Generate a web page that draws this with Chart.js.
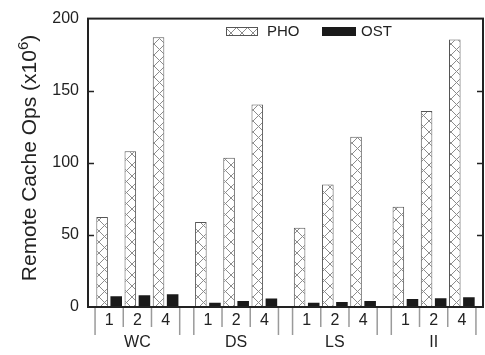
<!DOCTYPE html>
<html>
<head>
<meta charset="utf-8">
<script src="https://cdn.jsdelivr.net/npm/chart.js@4.4.0/dist/chart.umd.min.js"></script>
<style>
  html, body { margin: 0; padding: 0; background: #fff; }
  canvas { display: block; }
</style>
</head>
<body>
<canvas id="c" width="485" height="355"></canvas>
<script>
// data
const groups = ['WC', 'DS', 'LS', 'II'];
const slotLabels = ['1', '2', '4'];
const phoValues = [62.5, 108, 187, 59, 103.5, 140.5, 55, 85, 118, 69.5, 136, 185.5];
const ostValues = [7.5, 8.2, 8.9, 2.9, 4.1, 5.9, 2.9, 3.4, 4.1, 5.5, 6.1, 6.8];
const yTicks = [0, 50, 100, 150, 200];
const seriesNames = ['PHO', 'OST'];

const FONT = '"Liberation Sans", Arial, Helvetica, sans-serif';
const GROUP_GAP = 0.5; // in slot units

// position of a slot on the linear x scale
function slotStart(g, s) { return g * (slotLabels.length + GROUP_GAP) + s; }
const slotCenters = [];
groups.forEach((g, gi) => slotLabels.forEach((s, si) => slotCenters.push(slotStart(gi, si) + 0.5)));

function makeHatch() {
    const n = 11;
    const c = document.createElement('canvas');
    c.width = n; c.height = n;
    const x = c.getContext('2d');
    x.fillStyle = '#fff';
    x.fillRect(0, 0, n, n);
    x.strokeStyle = '#8c8c8c';
    x.lineWidth = 1;
    x.beginPath();
    x.moveTo(-1, -1); x.lineTo(n + 1, n + 1);
    x.moveTo(n + 1, -1); x.lineTo(-1, n + 1);
    x.stroke();
    return x.createPattern(c, 'repeat');
}
const hatch = makeHatch();

const decorations = {
    id: 'decorations',
    afterDraw(chart) {
        const ctx = chart.ctx;
        const a = chart.chartArea;
        const xs = chart.scales.x, ys = chart.scales.y;
        ctx.save();

        // frame
        ctx.strokeStyle = '#222';
        ctx.lineWidth = 2;
        ctx.strokeRect(a.left, a.top, a.right - a.left, a.bottom - a.top);

        // inward tick marks on both sides
        ctx.lineWidth = 1.5;
        yTicks.slice(1, -1).forEach(v => {
            const y = Math.round(ys.getPixelForValue(v)) + 0.5;
            ctx.beginPath();
            ctx.moveTo(a.left, y); ctx.lineTo(a.left + 6, y);
            ctx.moveTo(a.right, y); ctx.lineTo(a.right - 6, y);
            ctx.stroke();
        });

        // slot separators below the axis
        ctx.strokeStyle = '#9a9a9a';
        ctx.lineWidth = 1.5;
        groups.forEach((g, gi) => {
            for (let s = 0; s <= slotLabels.length; s++) {
                const x = xs.getPixelForValue(slotStart(gi, s));
                const edge = (s === 0 || s === slotLabels.length);
                ctx.beginPath();
                ctx.moveTo(x, a.bottom + 1);
                ctx.lineTo(x, a.bottom + (edge ? 28 : 20));
                ctx.stroke();
            }
        });

        // group names
        ctx.fillStyle = '#222';
        ctx.font = '16px ' + FONT;
        ctx.textAlign = 'center';
        ctx.textBaseline = 'middle';
        groups.forEach((g, gi) => {
            const x = xs.getPixelForValue(slotStart(gi, 0) + slotLabels.length / 2);
            ctx.fillText(g, x, a.bottom + 36);
        });

        // legend
        const ds = chart.data.datasets;
        const legend = [
            { x: 226, w: 32, tx: 267 },
            { x: 322, w: 34, tx: 361 }
        ];
        ctx.font = '15px ' + FONT;
        ctx.textAlign = 'left';
        legend.forEach((l, i) => {
            ctx.fillStyle = ds[i].backgroundColor;
            ctx.fillRect(l.x, 27, l.w, 9);
            if (ds[i].borderWidth) {
                ctx.strokeStyle = ds[i].borderColor;
                ctx.lineWidth = 1;
                ctx.strokeRect(l.x + 0.5, 27.5, l.w - 1, 8);
            }
            ctx.fillStyle = '#222';
            ctx.fillText(ds[i].label, l.tx, 32);
        });

        // y title with superscript
        ctx.translate(36, 158);
        ctx.rotate(-Math.PI / 2);
        ctx.textBaseline = 'alphabetic';
        const big = '21px ' + FONT, small = '15px ' + FONT;
        const p1 = 'Remote Cache Ops (x10', p2 = '6', p3 = ')';
        ctx.font = big;
        const w1 = ctx.measureText(p1).width, w3 = ctx.measureText(p3).width;
        ctx.font = small;
        const w2 = ctx.measureText(p2).width;
        let x0 = -(w1 + w2 + w3) / 2;
        ctx.font = big;
        ctx.fillText(p1, x0, 0);
        ctx.font = small;
        ctx.fillText(p2, x0 + w1, -8);
        ctx.font = big;
        ctx.fillText(p3, x0 + w1 + w2, 0);

        ctx.restore();
    }
};

new Chart(document.getElementById('c'), {
    type: 'bar',
    data: {
        datasets: [
            {
                label: seriesNames[0],
                data: phoValues.map((v, i) => ({ x: slotCenters[i], y: v })),
                backgroundColor: hatch,
                borderColor: '#555',
                borderWidth: 1,
                barPercentage: 0.82,
                categoryPercentage: 1.0
            },
            {
                label: seriesNames[1],
                data: ostValues.map((v, i) => ({ x: slotCenters[i], y: v })),
                backgroundColor: '#1a1a1a',
                borderWidth: 0,
                barPercentage: 0.82,
                categoryPercentage: 1.0
            }
        ]
    },
    options: {
        responsive: false,
        animation: false,
        layout: { padding: { left: 38, top: 14, right: 2, bottom: 0 } },
        plugins: { legend: { display: false }, tooltip: { enabled: false } },
        scales: {
            x: {
                type: 'linear',
                offset: false,
                min: -0.25,
                max: slotStart(groups.length - 1, slotLabels.length) + 0.25,
                grid: { display: false, drawTicks: false, offset: false },
                border: { display: false },
                afterBuildTicks: (scale) => { scale.ticks = slotCenters.map(v => ({ value: v })); },
                afterFit: (scale) => { scale.height = 48; },
                ticks: {
                    autoSkip: false,
                    maxRotation: 0,
                    padding: 4,
                    color: '#222',
                    font: { family: FONT, size: 16 },
                    callback: (v, i) => slotLabels[i % slotLabels.length]
                }
            },
            y: {
                min: 0,
                max: 200,
                grid: { display: false, drawTicks: false },
                border: { display: false },
                afterBuildTicks: (scale) => { scale.ticks = yTicks.map(v => ({ value: v })); },
                afterFit: (scale) => { scale.width = 50; },
                ticks: {
                    padding: 9,
                    color: '#222',
                    font: { family: FONT, size: 16 }
                }
            }
        }
    },
    plugins: [decorations]
});
</script>
</body>
</html>
